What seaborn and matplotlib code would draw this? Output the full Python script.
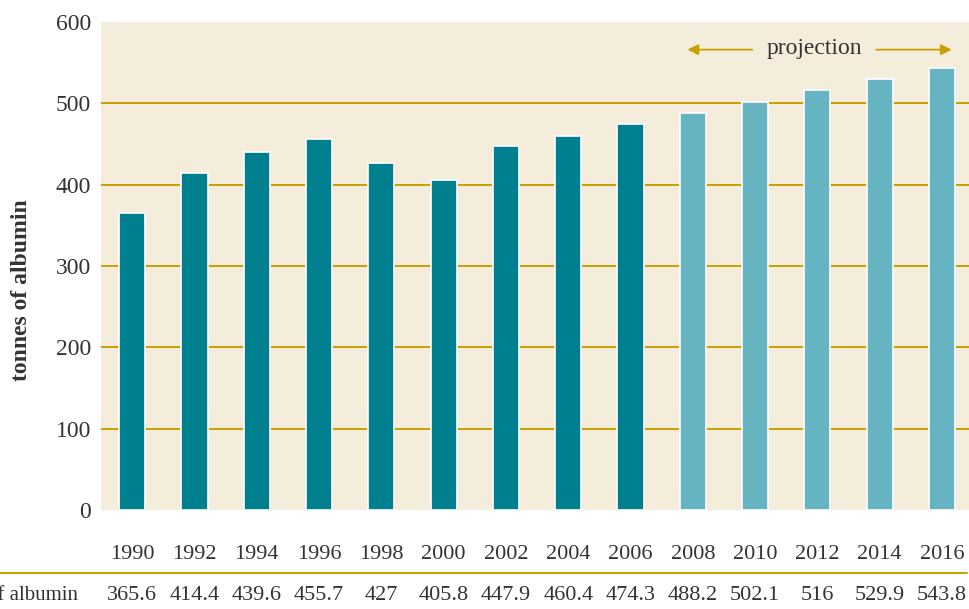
import pandas as pd
import matplotlib.pyplot as plt
import seaborn as sns

# albumin use, tonnes (2008 onward is projection)
years = ['1990', '1992', '1994', '1996', '1998', '2000', '2002', '2004', '2006',
         '2008', '2010', '2012', '2014', '2016']
tonnes = [365.6, 414.4, 439.6, 455.7, 427, 405.8, 447.9, 460.4, 474.3,
          488.2, 502.1, 516, 529.9, 543.8]
table_labels = ['365.6', '414.4', '439.6', '455.7', '427', '405.8', '447.9', '460.4', '474.3',
                '488.2', '502.1', '516', '529.9', '543.8']
kind = ['actual'] * 9 + ['projection'] * 5

df = pd.DataFrame({'year': years, 'tonnes': tonnes, 'kind': kind})

sns.set_style('white')
plt.rcParams['font.family'] = ['Liberation Serif', 'DejaVu Serif']

dark = '#00808F'
light = '#66B3C2'
gold = '#C9A000'
bg = '#F5EDDC'
txt = '#333333'

fig = plt.figure(figsize=(9.7, 6.09), dpi=100)
W, H = 970, 609
ax = fig.add_axes([101 / W, 1 - 510 / H, (970 - 101) / W, (510 - 22) / H])
ax.set_facecolor(bg)

sns.barplot(data=df, x='year', y='tonnes', hue='kind',
            palette={'actual': dark, 'projection': light}, saturation=1,
            dodge=False, width=0.42, edgecolor='white', linewidth=1.2,
            legend=False, ax=ax, zorder=3)

ax.set_ylim(0, 600)
ax.set_xlim(-0.5, 13.45)
ax.set_yticks([0, 100, 200, 300, 400, 500, 600])
for v in [100, 200, 300, 400, 500]:
    ax.axhline(v, color=gold, lw=1.4, zorder=1)
ax.tick_params(axis='y', length=0, pad=7, labelsize=17, labelcolor=txt)
ax.tick_params(axis='x', length=0, pad=25, labelsize=16, labelcolor=txt)
for s in ax.spines.values():
    s.set_visible(False)
ax.set_xlabel('')
ax.set_ylabel('')

fig.text(22 / W, 1 - 290 / H, 'tonnes of albumin', rotation=90, fontsize=17,
         fontweight='bold', color=txt, ha='center', va='center')

# projection marker
ax.annotate('', xy=(8.87, 566), xytext=(10.0, 566),
            arrowprops=dict(arrowstyle='-|>', color=gold, lw=1.3, mutation_scale=16))
ax.annotate('', xy=(13.2, 566), xytext=(11.9, 566),
            arrowprops=dict(arrowstyle='-|>', color=gold, lw=1.3, mutation_scale=16))
ax.text(10.95, 567, 'projection', ha='center', va='center', fontsize=17, color=txt)

# data table under the chart
line_y = 1 - 573 / H
fig.add_artist(plt.Line2D([0, 967 / W], [line_y, line_y], color=gold, lw=1.4,
                          transform=fig.transFigure))
fig.text(78 / W, 1 - 595 / H, 'tonnes of albumin', ha='right', va='center',
         fontsize=15, color=txt)
for i, lab in enumerate(table_labels):
    xd = ax.transData.transform((i, 0))[0]
    xf = fig.transFigure.inverted().transform((xd, 0))[0]
    fig.text(xf, 1 - 595 / H, lab, ha='center', va='center', fontsize=16, color=txt)

fig.savefig('out.png', dpi=100)
